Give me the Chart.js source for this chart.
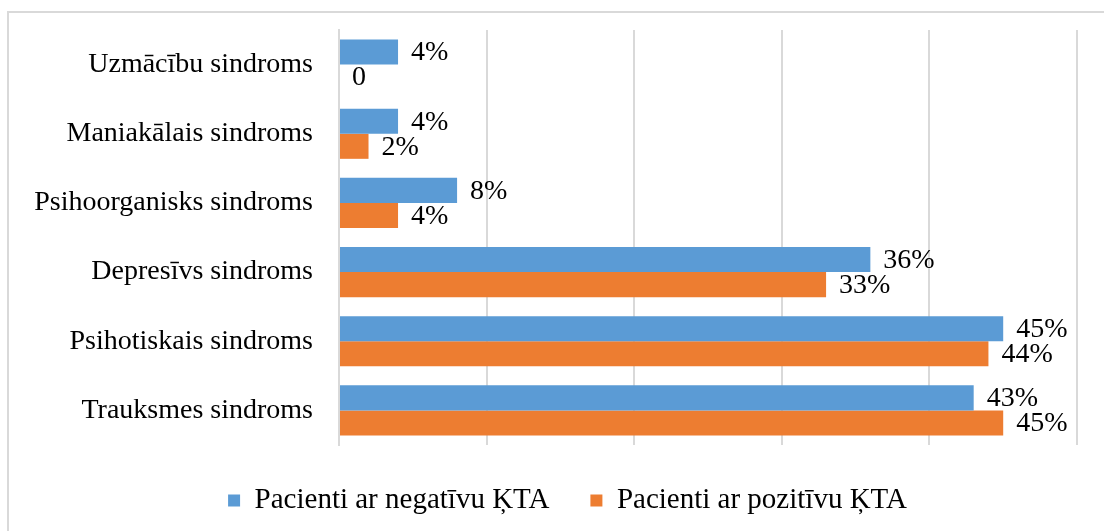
<!DOCTYPE html>
<html lang="lv">
<head>
    <meta charset="UTF-8">
    <title>Sindromi</title>
    <script src="https://cdn.jsdelivr.net/npm/chart.js"></script>
    <style>
        body { margin: 0; background: #fff; overflow: hidden; }
        .frame { position: absolute; left: 7px; top: 11px; width: 1200px; height: 600px; border: 2px solid #d9d9d9; }
        .wrap { position: absolute; left: 0; top: 0; width: 1104px; height: 531px; }
    </style>
</head>
<body>
    <div class="frame"></div>
    <div class="wrap"><canvas id="chart" width="1104" height="531"></canvas></div>

    <script>
        const categories = ['Uzmācību sindroms', 'Maniakālais sindroms', 'Psihoorganisks sindroms',
                            'Depresīvs sindroms', 'Psihotiskais sindroms', 'Trauksmes sindroms'];
        const negativeKTA = [4, 4, 8, 36, 45, 43];
        const positiveKTA = [0, 2, 4, 33, 44, 45];
        const seriesNames = ['Pacienti ar negatīvu ĶTA', 'Pacienti ar pozitīvu ĶTA'];

        const FONT = "'Liberation Serif', 'Times New Roman', serif";

        // value labels to the right of each bar
        const barLabels = {
            id: 'barLabels',
            afterDatasetsDraw(chart) {
                const ctx = chart.ctx;
                ctx.save();
                ctx.font = '28px ' + FONT;
                ctx.fillStyle = '#000';
                ctx.textAlign = 'left';
                ctx.textBaseline = 'middle';
                chart.data.datasets.forEach((ds, i) => {
                    chart.getDatasetMeta(i).data.forEach((bar, j) => {
                        const v = ds.data[j];
                        ctx.fillText(v === 0 ? '0' : v + '%', bar.x + 13, bar.y + 1);
                    });
                });
                ctx.restore();
            }
        };

        // legend in the original sits a bit right of centre
        const legendShift = {
            id: 'legendShift',
            afterLayout(chart) {
                chart.legend.left += 29;
                chart.legend.right += 29;
            }
        };

        new Chart(document.getElementById('chart'), {
            type: 'bar',
            data: {
                labels: categories,
                datasets: [
                    { label: seriesNames[0], data: negativeKTA, backgroundColor: '#5b9bd5' },
                    { label: seriesNames[1], data: positiveKTA, backgroundColor: '#ed7d31' }
                ]
            },
            options: {
                indexAxis: 'y',
                responsive: false,
                animation: false,
                barPercentage: 1,
                categoryPercentage: 0.725,
                layout: { padding: { top: 30, right: 27, bottom: 6, left: 0 } },
                scales: {
                    x: {
                        min: 0, max: 50,
                        ticks: { display: false, stepSize: 10 },
                        border: { display: false },
                        grid: { color: '#d9d9d9', lineWidth: 2, drawTicks: false }
                    },
                    y: {
                        grid: { display: false },
                        border: { color: '#d9d9d9', width: 2 },
                        ticks: { color: '#000', font: { family: FONT, size: 28 }, padding: 18 },
                        afterFit(scale) {
                            scale.width = 339;
                            scale.paddingTop = 0;
                            scale.paddingBottom = 0;
                        }
                    }
                },
                plugins: {
                    tooltip: { enabled: false },
                    legend: {
                        position: 'bottom',
                        labels: {
                            color: '#000',
                            font: { family: FONT, size: 29 },
                            boxWidth: 12, boxHeight: 12,
                            padding: 41
                        }
                    }
                }
            },
            plugins: [barLabels, legendShift]
        });
    </script>
</body>
</html>
